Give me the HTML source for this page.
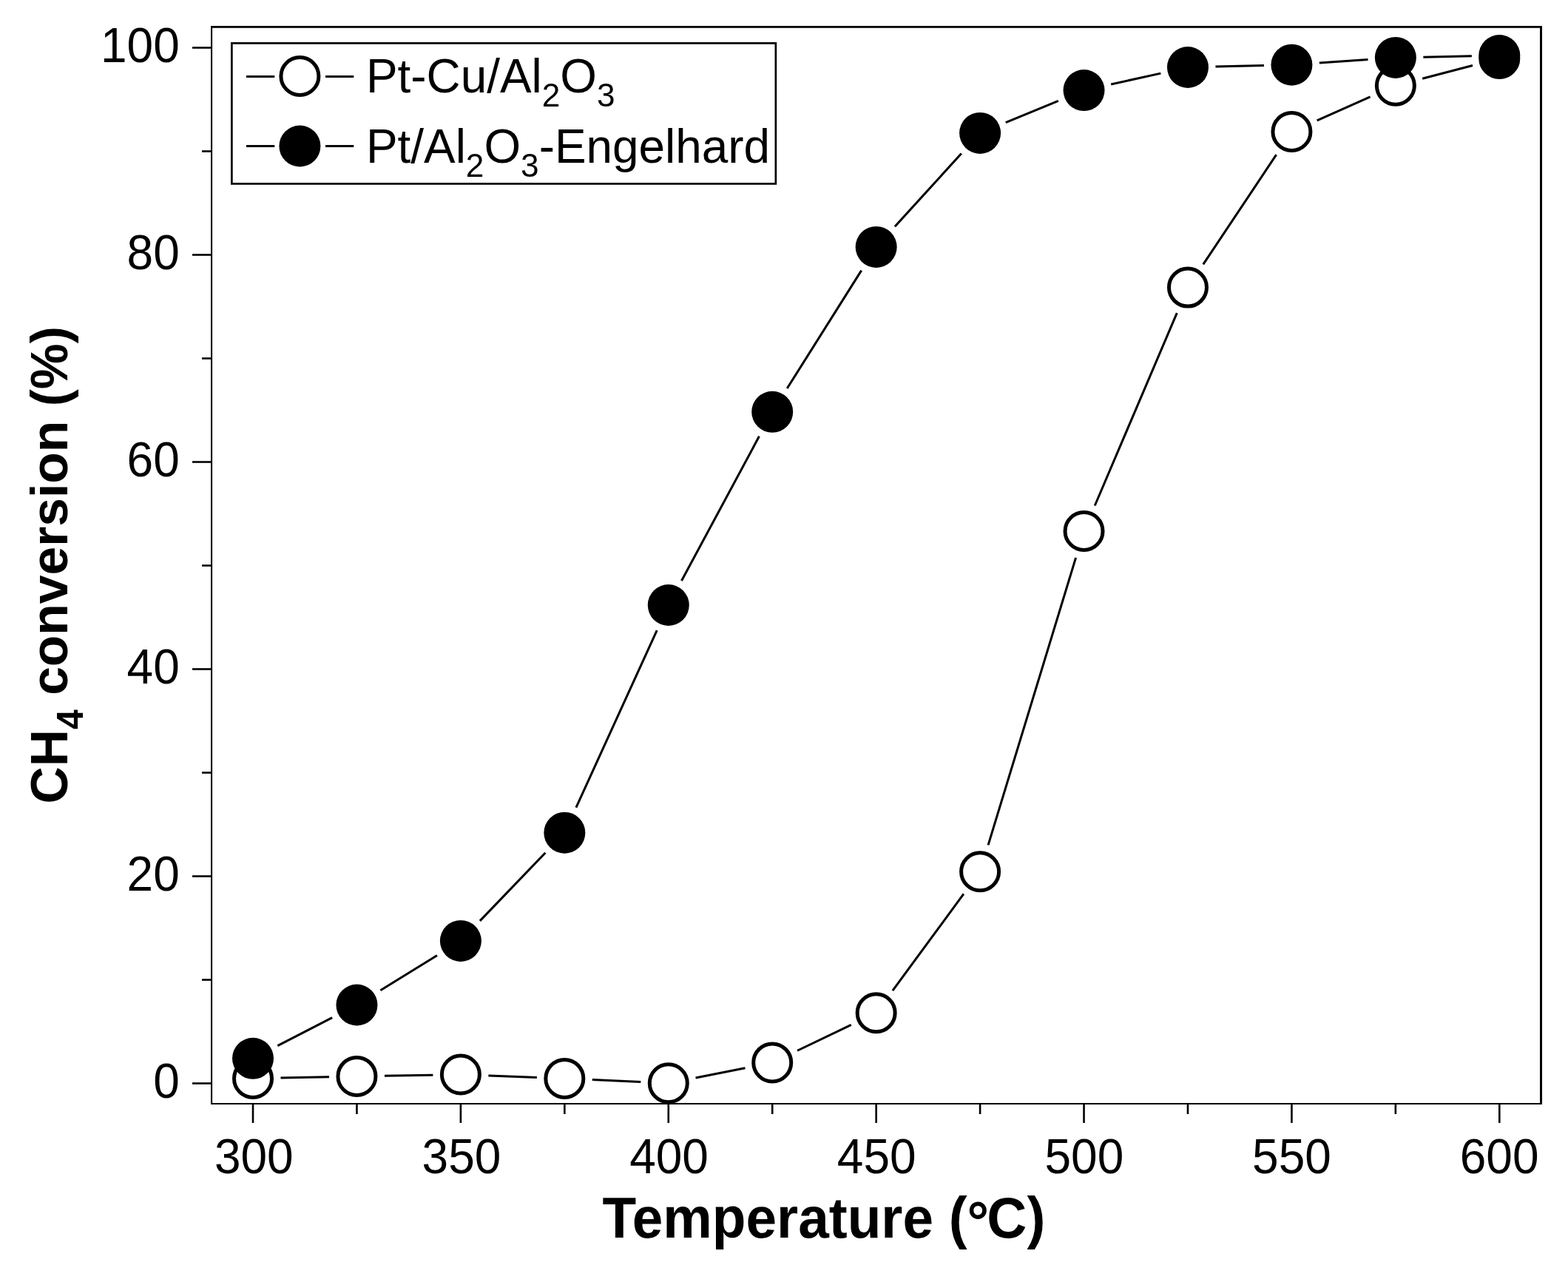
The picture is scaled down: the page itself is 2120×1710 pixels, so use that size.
<!DOCTYPE html>
<html lang="en"><head><meta charset="utf-8"><title>CH4 conversion vs Temperature</title>
<style>
html,body{margin:0;padding:0;background:#fff;}
body{width:2120px;height:1710px;overflow:hidden;}
svg{display:block;}
text{font-family:"Liberation Sans",sans-serif;fill:#000;}
.tk{font-size:64px;}
.ttl{font-size:76px;font-weight:bold;}
</style></head><body>
<svg width="2120" height="1710" viewBox="0 0 2120 1710">
<rect x="0" y="0" width="2120" height="1710" fill="#fff"/>
<g fill="#000">
<rect x="285.0" y="35.0" width="1800.0" height="2.8"/>
<rect x="285.0" y="1491.0" width="1800.0" height="2.0"/>
<rect x="285.0" y="35.0" width="2.1" height="1458.0"/>
<rect x="2082.0" y="35.0" width="3.0" height="1458.0"/>
</g>
<g stroke="#000" stroke-width="2.6" fill="none">
<line x1="342.00" y1="1492.00" x2="342.00" y2="1518.00"/>
<line x1="482.44" y1="1492.00" x2="482.44" y2="1506.00"/>
<line x1="622.88" y1="1492.00" x2="622.88" y2="1518.00"/>
<line x1="763.33" y1="1492.00" x2="763.33" y2="1506.00"/>
<line x1="903.77" y1="1492.00" x2="903.77" y2="1518.00"/>
<line x1="1044.21" y1="1492.00" x2="1044.21" y2="1506.00"/>
<line x1="1184.65" y1="1492.00" x2="1184.65" y2="1518.00"/>
<line x1="1325.09" y1="1492.00" x2="1325.09" y2="1506.00"/>
<line x1="1465.53" y1="1492.00" x2="1465.53" y2="1518.00"/>
<line x1="1605.97" y1="1492.00" x2="1605.97" y2="1506.00"/>
<line x1="1746.42" y1="1492.00" x2="1746.42" y2="1518.00"/>
<line x1="1886.86" y1="1492.00" x2="1886.86" y2="1506.00"/>
<line x1="2027.30" y1="1492.00" x2="2027.30" y2="1518.00"/>
<line x1="286.00" y1="1464.50" x2="260.00" y2="1464.50"/>
<line x1="286.00" y1="1324.50" x2="273.00" y2="1324.50"/>
<line x1="286.00" y1="1184.50" x2="260.00" y2="1184.50"/>
<line x1="286.00" y1="1044.50" x2="273.00" y2="1044.50"/>
<line x1="286.00" y1="904.50" x2="260.00" y2="904.50"/>
<line x1="286.00" y1="764.50" x2="273.00" y2="764.50"/>
<line x1="286.00" y1="624.50" x2="260.00" y2="624.50"/>
<line x1="286.00" y1="484.50" x2="273.00" y2="484.50"/>
<line x1="286.00" y1="344.50" x2="260.00" y2="344.50"/>
<line x1="286.00" y1="204.50" x2="273.00" y2="204.50"/>
<line x1="286.00" y1="64.50" x2="260.00" y2="64.50"/>
</g>
<g class="tk" text-anchor="middle" style="font-size:66px">
<text transform="translate(343.30,1586.4) scale(0.97,1)">300</text>
<text transform="translate(623.93,1586.4) scale(0.97,1)">350</text>
<text transform="translate(904.57,1586.4) scale(0.97,1)">400</text>
<text transform="translate(1185.20,1586.4) scale(0.97,1)">450</text>
<text transform="translate(1465.83,1586.4) scale(0.97,1)">500</text>
<text transform="translate(1746.47,1586.4) scale(0.97,1)">550</text>
<text transform="translate(2027.10,1586.4) scale(0.97,1)">600</text>
</g>
<g class="tk" text-anchor="end" style="font-size:66px">
<text transform="translate(242.8,1484.00) scale(0.97,1)">0</text>
<text transform="translate(242.8,1204.00) scale(0.97,1)">20</text>
<text transform="translate(242.8,924.00) scale(0.97,1)">40</text>
<text transform="translate(242.8,644.00) scale(0.97,1)">60</text>
<text transform="translate(242.8,364.00) scale(0.97,1)">80</text>
<text transform="translate(242.8,84.00) scale(0.97,1)">100</text>
</g>
<text class="ttl" transform="translate(814.5,1673) scale(0.9715,1)" style="font-size:77px">Temperature (<tspan dy="5.4" dx="-0.2" style="font-size:76px">°</tspan><tspan dy="-5.4" dx="-2.8">C)</tspan></text>
<text class="ttl" transform="translate(91.2,1086.5) rotate(-90) scale(0.98,1)" style="font-size:71px">CH<tspan style="font-size:49.3px" dy="20.9">4</tspan><tspan dy="-20.9"> conversion (%)</tspan></text>
<g stroke="#000" stroke-width="3.0" fill="none" stroke-linecap="butt">
<line x1="379.49" y1="1457.10" x2="444.95" y2="1455.70"/>
<line x1="519.94" y1="1454.26" x2="585.39" y2="1453.14"/>
<line x1="660.36" y1="1453.94" x2="725.85" y2="1456.46"/>
<line x1="800.79" y1="1459.61" x2="866.31" y2="1462.59"/>
<line x1="940.55" y1="1456.99" x2="1007.43" y2="1443.71"/>
<line x1="1078.04" y1="1420.23" x2="1150.81" y2="1385.47"/>
<line x1="1206.86" y1="1339.08" x2="1302.88" y2="1208.42"/>
<line x1="1336.04" y1="1142.33" x2="1454.59" y2="753.87"/>
<line x1="1480.24" y1="683.50" x2="1591.27" y2="423.10"/>
<line x1="1626.78" y1="357.40" x2="1725.61" y2="209.20"/>
<line x1="1780.70" y1="162.81" x2="1852.57" y2="130.99"/>
<line x1="1923.13" y1="106.29" x2="1991.02" y2="88.51"/>
</g>
<g fill="#fff" stroke="#000" stroke-width="5">
<circle cx="342.00" cy="1457.90" r="25.5"/>
<circle cx="482.44" cy="1454.90" r="25.5"/>
<circle cx="622.88" cy="1452.50" r="25.5"/>
<circle cx="763.33" cy="1457.90" r="25.5"/>
<circle cx="903.77" cy="1464.30" r="25.5"/>
<circle cx="1044.21" cy="1436.40" r="25.5"/>
<circle cx="1184.65" cy="1369.30" r="25.5"/>
<circle cx="1325.09" cy="1178.20" r="25.5"/>
<circle cx="1465.53" cy="718.00" r="25.5"/>
<circle cx="1605.97" cy="388.60" r="25.5"/>
<circle cx="1746.42" cy="178.00" r="25.5"/>
<circle cx="1886.86" cy="115.80" r="25.5"/>
<circle cx="2027.30" cy="79.00" r="25.5"/>
</g>
<g stroke="#000" stroke-width="3.0" fill="none" stroke-linecap="butt">
<line x1="375.34" y1="1413.64" x2="449.10" y2="1375.66"/>
<line x1="514.36" y1="1338.82" x2="590.96" y2="1291.58"/>
<line x1="648.86" y1="1244.86" x2="737.35" y2="1152.74"/>
<line x1="778.90" y1="1091.59" x2="888.20" y2="852.11"/>
<line x1="921.53" y1="784.97" x2="1026.45" y2="589.83"/>
<line x1="1064.20" y1="525.07" x2="1164.66" y2="365.63"/>
<line x1="1209.92" y1="306.19" x2="1299.82" y2="207.61"/>
<line x1="1359.77" y1="165.63" x2="1430.86" y2="136.37"/>
<line x1="1502.15" y1="113.99" x2="1569.36" y2="99.11"/>
<line x1="1643.46" y1="90.12" x2="1708.93" y2="88.58"/>
<line x1="1783.83" y1="85.09" x2="1849.45" y2="80.51"/>
<line x1="1924.35" y1="77.13" x2="1989.81" y2="75.77"/>
</g>
<g fill="#000" stroke="none">
<circle cx="342.00" cy="1430.80" r="28.0"/>
<circle cx="482.44" cy="1358.50" r="28.0"/>
<circle cx="622.88" cy="1271.90" r="28.0"/>
<circle cx="763.33" cy="1125.70" r="28.0"/>
<circle cx="903.77" cy="818.00" r="28.0"/>
<circle cx="1044.21" cy="556.80" r="28.0"/>
<circle cx="1184.65" cy="333.90" r="28.0"/>
<circle cx="1325.09" cy="179.90" r="28.0"/>
<circle cx="1465.53" cy="122.10" r="28.0"/>
<circle cx="1605.97" cy="91.00" r="28.0"/>
<circle cx="1746.42" cy="87.70" r="28.0"/>
<circle cx="1886.86" cy="77.90" r="28.0"/>
<circle cx="2027.30" cy="75.00" r="28.0"/>
</g>
<rect x="313.35" y="58.4" width="735.5" height="190" fill="#fff" stroke="#000" stroke-width="2.7"/>
<g stroke="#000" stroke-width="3.0" fill="none">
<line x1="333" y1="103.5" x2="371.3" y2="103.5"/>
<line x1="440" y1="103.5" x2="478.3" y2="103.5"/>
<line x1="333" y1="197.5" x2="371.3" y2="197.5"/>
<line x1="440" y1="197.5" x2="478.3" y2="197.5"/>
</g>
<circle cx="405.4" cy="103" r="25.5" fill="#fff" stroke="#000" stroke-width="5"/>
<circle cx="405.4" cy="197.5" r="28" fill="#000"/>
<text class="tk" transform="translate(495,124.9) scale(0.9824,1)" style="font-size:65px">Pt-Cu/Al<tspan style="font-size:45px" dy="18.9">2</tspan><tspan dy="-18.9">O</tspan><tspan style="font-size:45px" dy="18.9">3</tspan></text>
<text class="tk" transform="translate(495,219.6) scale(0.9824,1)" style="font-size:65px">Pt/Al<tspan style="font-size:45px" dy="18.9">2</tspan><tspan dy="-18.9">O</tspan><tspan style="font-size:45px" dy="18.9">3</tspan><tspan dy="-18.9">-Engelhard</tspan></text>
</svg>
</body></html>
